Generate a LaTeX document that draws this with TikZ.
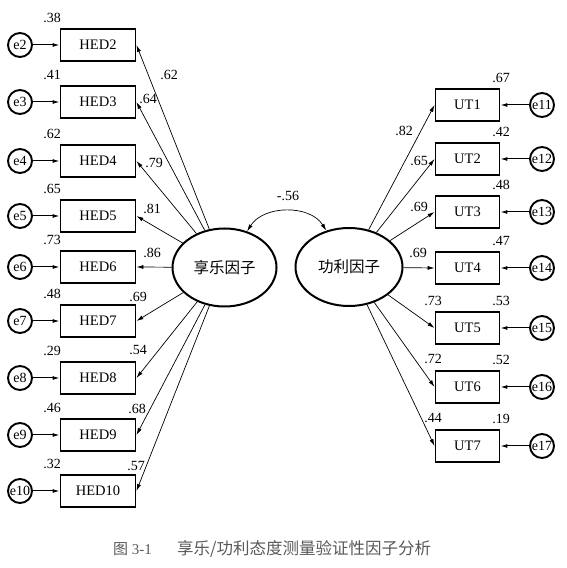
\documentclass[tikz,border=0pt]{standalone}
\usepackage{fontspec}
\setmainfont{Liberation Serif}
\newfontfamily\cjk{Noto Sans CJK SC}
\usetikzlibrary{arrows.meta,shapes.geometric}
\begin{document}
\begin{tikzpicture}[x=1pt,y=1pt,
  obs/.style={draw,line width=1.9pt,minimum width=75pt,minimum height=32pt,inner sep=0pt,font=\fontsize{14.5}{16}\selectfont},
  obsr/.style={obs,minimum width=64pt},
  err/.style={draw,circle,line width=1.9pt,minimum size=24pt,inner sep=0pt,font=\fontsize{14}{16}\selectfont},
  lat/.style={draw,ellipse,line width=2pt,minimum width=104pt,minimum height=78pt,inner sep=0pt,font=\cjk\fontsize{15.5}{17}\selectfont},
  load/.style={line width=0.7pt,-{Latex[length=7pt,width=4pt]}},
  erra/.style={line width=1pt,-{Latex[length=7pt,width=4pt]}},
  lab/.style={font=\fontsize{14}{16}\selectfont,inner sep=0pt}
]
\useasboundingbox (0,0) rectangle (566,568);

\node[lat] (L) at (224.5,300.5) {享乐因子};
\node[lat,minimum width=107pt] (R) at (349,301) {功利因子};

\foreach \n/\y/\v/\l/\lx/\ly in {2/523/.38/.62/169/493, 3/466/.41/.64/148/469, 4/407/.62/.79/154/405, 5/352/.65/.81/152/359, 6/301/.73/.86/152/315, 7/247/.48/.69/138/271, 8/190/.29/.54/138/218, 9/133/.46/.68/137/159, 10/77/.32/.57/136/102}{
  \node[obs] (h\n) at (98,\y) {HED\n};
  \node[err] (e\n) at (20,\y) {e\n};
  \node[lab] (v\n) at (52,\y+27) {\v};
  \node[lab] (w\n) at (\lx,\ly) {\l};
  \draw[erra] (e\n) -- (h\n);
  \draw[load] (L) -- (h\n.east);
}

\foreach \n/\e/\y/\v/\l/\lx/\ly in {1/11/463/.67/.82/404/437, 2/12/409/.42/.65/419/407, 3/13/356/.48/.69/419/361, 4/14/300/.47/.69/418/315, 5/15/240/.53/.73/433/267, 6/16/181/.52/.72/433/209, 7/17/122/.19/.44/433/150}{
  \node[obsr] (u\n) at (467.5,\y) {UT\n};
  \node[err] (e\e) at (542,\y) {e\e};
  \node[lab] (rv\n) at (501,\y+27) {\v};
  \node[lab] (rw\n) at (\lx,\ly) {\l};
  \draw[erra] (e\e) -- (u\n);
  \draw[load] (R) -- (u\n.west);
}

\draw[line width=0.7pt,{Latex[length=7pt,width=4pt]}-{Latex[length=7pt,width=4pt]}] (L) to[out=58,in=122] (R);
\node[lab] (cov) at (288,372) {-.56};

\node[anchor=west,inner sep=0pt,text=black!65,font=\fontsize{15}{17}\selectfont] (cap1) at (113,19) {{\cjk 图} 3-1};
\node[anchor=west,inner sep=0pt,text=black!65,font=\cjk\fontsize{16.5}{18}\selectfont] (cap2) at (177,19) {享乐/功利态度测量验证性因子分析};
\end{tikzpicture}
\end{document}
